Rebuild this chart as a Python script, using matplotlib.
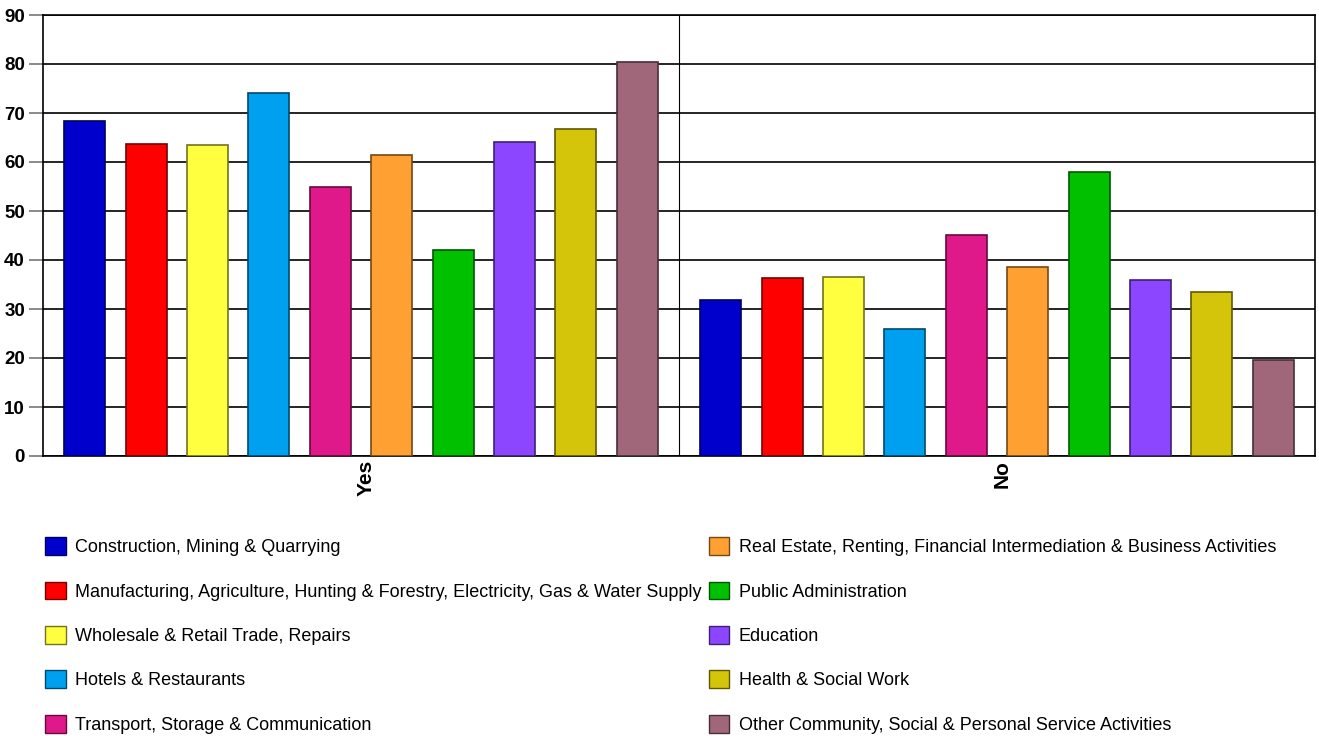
import numpy as np
import matplotlib.pyplot as plt
from matplotlib.colors import to_rgb
from matplotlib.patches import Patch
from matplotlib.transforms import ScaledTranslation

plt.rcParams['font.family'] = ['Liberation Sans', 'DejaVu Sans']

# sectors (legend order) and their share answering Yes / No
sectors = ['Construction, Mining & Quarrying',
           'Manufacturing, Agriculture, Hunting & Forestry, Electricity, Gas & Water Supply',
           'Wholesale & Retail Trade, Repairs',
           'Hotels & Restaurants',
           'Transport, Storage & Communication',
           'Real Estate, Renting, Financial Intermediation & Business Activities',
           'Public Administration',
           'Education',
           'Health & Social Work',
           'Other Community, Social & Personal Service Activities']
groups = ['Yes', 'No']
yes_vals = [68.4, 63.7, 63.5, 74.0, 54.8, 61.4, 42.0, 64.1, 66.8, 80.4]
no_vals = [31.8, 36.3, 36.5, 26.0, 45.2, 38.6, 58.0, 35.9, 33.4, 19.5]

colors = ['#0000CC', '#FF0000', '#FFFF40', '#00A0F0', '#E0198A',
          '#FFA033', '#00C000', '#8C46FF', '#D4C40A', '#A0667A']
# outline each bar in a darker shade of its fill
edges = [tuple(0.45 * c for c in to_rgb(col)) for col in colors]

fig = plt.figure(figsize=(13.19, 7.36), dpi=100)
ax = fig.add_axes([43 / 1319, 1 - 456 / 736, 1272 / 1319, 441 / 736])

n = len(sectors)
slot = 0.0965
width = 0.0645
offsets = (np.arange(n) - (n - 1) / 2) * slot
centers = np.arange(len(groups)) + 0.5
data = np.array([yes_vals, no_vals])

for i in range(n):
    ax.bar(centers + offsets[i], data[:, i], width=width, color=colors[i],
           edgecolor=edges[i], linewidth=1.2, zorder=3)

ax.set_xlim(0, 2)
ax.set_ylim(0, 90)
ax.set_yticks(np.arange(0, 91, 10))
ax.yaxis.grid(True, color='black', linewidth=1.2, zorder=0)
ax.axvline(1, color='black', linewidth=0.8, zorder=1)
ax.set_xticks(centers)
ax.set_xticklabels(groups, rotation=90, fontweight='bold', fontsize=15)
ax.tick_params(axis='x', length=0, pad=3)
# nudge the rotated group labels a little to the right
shift = ScaledTranslation(0.05, 0, fig.dpi_scale_trans)
for lab in ax.get_xticklabels():
    lab.set_transform(lab.get_transform() + shift)
ax.tick_params(axis='y', length=10, width=1.2, color='#777777',
               labelsize=13.5, pad=3)
for lab in ax.get_yticklabels():
    lab.set_fontweight('bold')
for s in ax.spines.values():
    s.set_linewidth(1.2)

handles = [Patch(facecolor=colors[i], edgecolor=edges[i], label=sectors[i])
           for i in range(n)]
fig.legend(handles=handles, ncol=2, loc='upper left',
           bbox_to_anchor=(38 / 1319, 1 - 530 / 736), frameon=False,
           fontsize=13, handlelength=1.15, handleheight=1.15,
           handletextpad=0.5, labelspacing=1.4, columnspacing=0.4,
           borderaxespad=0)

fig.savefig('out.png', dpi=100)
